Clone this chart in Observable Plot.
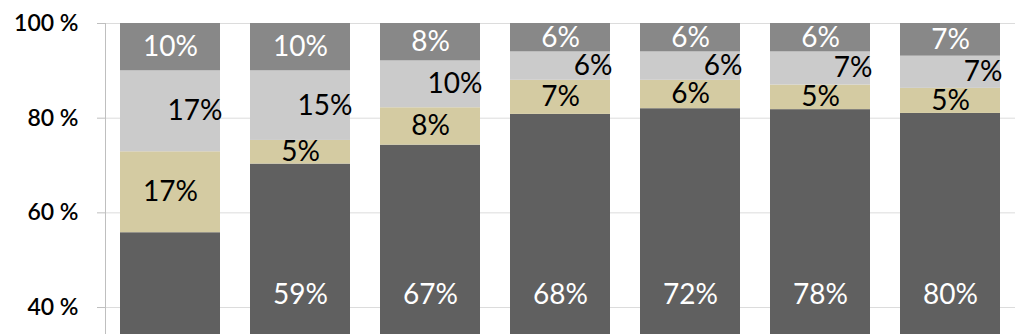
<!DOCTYPE html>
<html>
<head>
<meta charset="utf-8">
<script src="https://cdn.jsdelivr.net/npm/d3@7"></script>
<script src="https://cdn.jsdelivr.net/npm/@observablehq/plot@0.6"></script>
<style>
  html, body { margin: 0; padding: 0; background: #fff; }
  #chart { width: 1023px; height: 334px; overflow: hidden; }
</style>
</head>
<body>
<div id="chart"></div>
<script>
// Categories (no visible names in the reference)
const categories = ["1", "2", "3", "4", "5", "6", "7"];
const seriesNames = ["dark", "tan", "light", "top"];

// Segment heights (percent of bar)
const darkValues  = [55.8, 70.3, 74.3, 80.8, 82.0, 81.8, 81.0];
const tanValues   = [17.1,  5.0,  7.9,  7.2,  6.0,  5.2,  5.3];
const lightValues = [17.1, 14.7,  9.9,  6.0,  6.0,  7.0,  6.8];
const topValues   = [10.0, 10.0,  7.9,  6.0,  6.0,  6.0,  6.9];

// Label texts as printed on the chart
const darkLabels  = [null, "59%", "67%", "68%", "72%", "78%", "80%"];
const tanLabels   = ["17%", "5%", "8%", "7%", "6%", "5%", "5%"];
const lightLabels = ["17%", "15%", "10%", "6%", "6%", "7%", "7%"];
const topLabels   = ["10%", "10%", "8%", "6%", "6%", "6%", "7%"];

const yTicks = [40, 60, 80, 100];

const valuesBySeries = {dark: darkValues, tan: tanValues, light: lightValues, top: topValues};
const labelsBySeries = {dark: darkLabels, tan: tanLabels, light: lightLabels, top: topLabels};

// Build stacked rows (cumulative sums computed from the arrays)
const rows = [];
categories.forEach((c, i) => {
  let base = 0;
  for (const s of seriesNames) {
    const v = valuesBySeries[s][i];
    rows.push({cat: c, series: s, value: v, y1: base, y2: base + v, mid: base + v / 2, label: labelsBySeries[s][i]});
    base += v;
  }
});

const colors = ["#606060", "#d4cba2", "#cbcbcb", "#888888"];
const font = "Lato, 'Open Sans', sans-serif";
const labelSize = 28;
const bySeries = s => rows.filter(d => d.series === s && d.label);

const chart = Plot.plot({
  width: 1023,
  height: 334,
  marginLeft: 105,
  marginRight: 8,
  marginTop: 23,
  marginBottom: 0,
  style: {fontFamily: font, background: "#fff", overflow: "hidden"},
  x: {domain: categories, paddingInner: 0.23, paddingOuter: 0.115, axis: null},
  y: {domain: [34.3, 100], axis: null},
  color: {domain: seriesNames, range: colors},
  marks: [
    Plot.gridY(yTicks, {stroke: "#dcdcdc", strokeOpacity: 1}),
    Plot.barY(rows, {x: "cat", y1: "y1", y2: "y2", fill: "series", clip: true}),
    Plot.frame({anchor: "left", stroke: "#bfbfbf"}),
    Plot.axisY({
      ticks: yTicks,
      tickFormat: d => `${d} %`,
      label: null,
      tickSize: 8,
      tickPadding: 19,
      stroke: "#bfbfbf",
      fill: "#000",
      fontSize: 23,
      fontWeight: 600,
      fontFamily: font
    }),
    // top segment labels (white, centered)
    Plot.text(bySeries("top"), {
      x: "cat", y: "mid", text: "label",
      fill: "#fff", fontSize: labelSize, fontFamily: font
    }),
    // light-gray segment labels (black, pushed to the right edge)
    Plot.text(bySeries("light"), {
      x: "cat", y: "mid", text: "label",
      fill: "#000", fontSize: labelSize, fontFamily: font,
      textAnchor: "end", dx: 52
    }),
    // tan segment labels (black, centered)
    Plot.text(bySeries("tan"), {
      x: "cat", y: "mid", text: "label",
      fill: "#000", fontSize: labelSize, fontFamily: font
    }),
    // dark segment labels (white, near the bottom of the visible area)
    Plot.text(bySeries("dark"), {
      x: "cat", text: "label", frameAnchor: "bottom", dy: -31,
      fill: "#fff", fontSize: labelSize, fontFamily: font
    })
  ]
});

document.getElementById("chart").appendChild(chart);
</script>
</body>
</html>
